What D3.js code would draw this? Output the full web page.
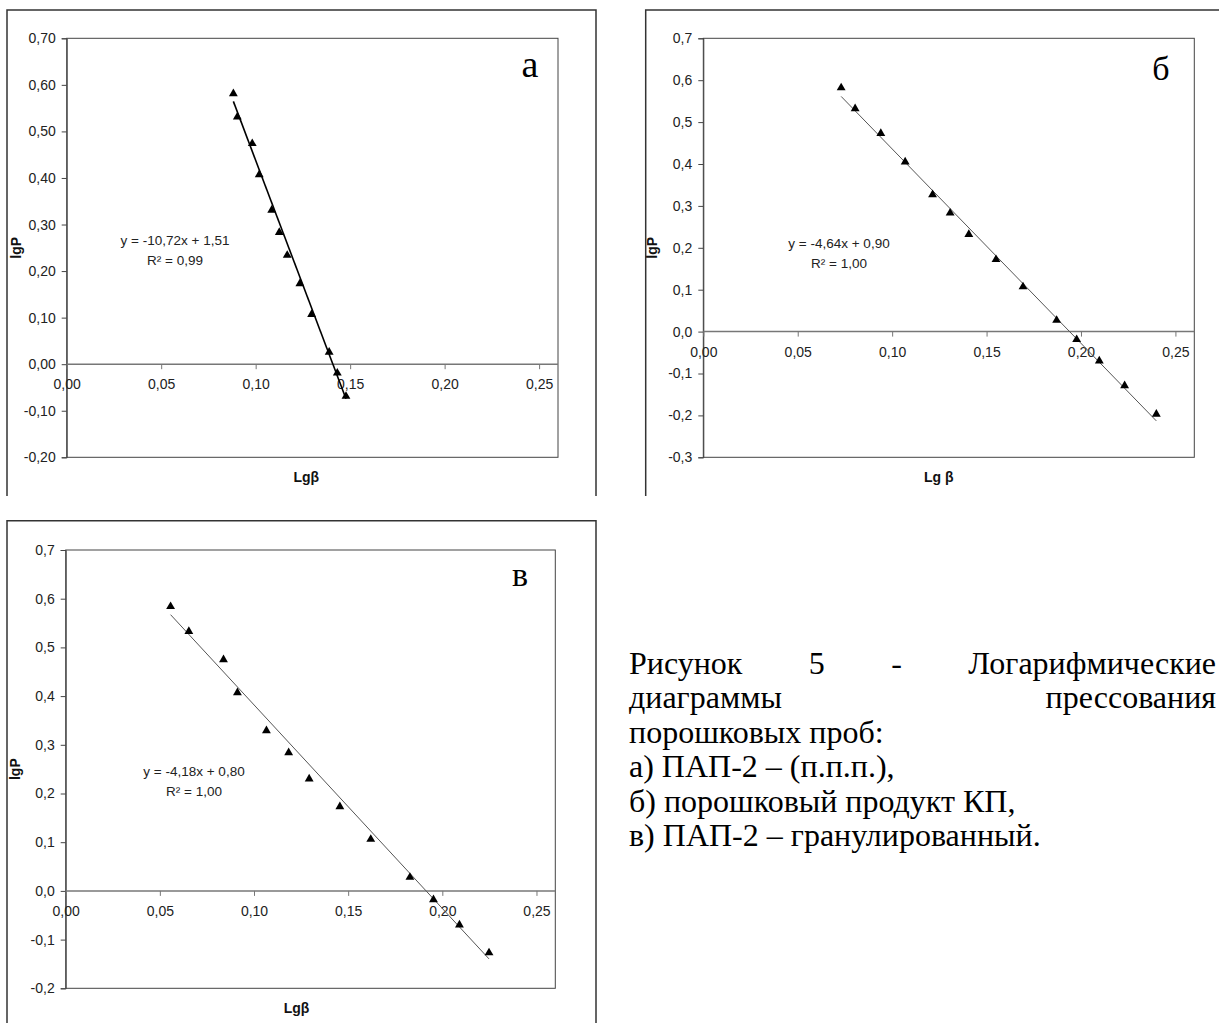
<!DOCTYPE html>
<html><head><meta charset="utf-8">
<script src="https://cdn.jsdelivr.net/npm/d3@7"></script>
<style>html,body{margin:0;padding:0;background:#fff;}svg{display:block;}</style>
</head><body>
<svg id="c" width="1219" height="1023"></svg>
<script>
// ---- data ----
const xTicks = [0, 0.05, 0.10, 0.15, 0.20, 0.25];
const yTicksA = [-0.2, -0.1, 0, 0.1, 0.2, 0.3, 0.4, 0.5, 0.6, 0.7];
const yTicksB = [-0.3, -0.2, -0.1, 0, 0.1, 0.2, 0.3, 0.4, 0.5, 0.6, 0.7];
const yTicksV = [-0.2, -0.1, 0, 0.1, 0.2, 0.3, 0.4, 0.5, 0.6, 0.7];

const xA = [0.0882, 0.0903, 0.0982, 0.1019, 0.1085, 0.1125, 0.1167, 0.1234, 0.1296, 0.1389, 0.1432, 0.1478];
const yA = [0.581, 0.531, 0.474, 0.407, 0.331, 0.283, 0.234, 0.173, 0.107, 0.026, -0.019, -0.069];
const fitA = {slope: -10.72, intercept: 1.51, eq: "y = -10,72x + 1,51", r2: "R² = 0,99"};

const xB = [0.0730, 0.0804, 0.0940, 0.1069, 0.1214, 0.1307, 0.1406, 0.1550, 0.1693, 0.1871, 0.1977, 0.2097, 0.2231, 0.2399];
const yB = [0.582, 0.532, 0.473, 0.405, 0.327, 0.283, 0.232, 0.172, 0.107, 0.027, -0.019, -0.070, -0.129, -0.197];
const fitB = {slope: -4.64, intercept: 0.90, eq: "y = -4,64x + 0,90", r2: "R² = 1,00"};

const xV = [0.0557, 0.0654, 0.0838, 0.0912, 0.1066, 0.1184, 0.1293, 0.1456, 0.1620, 0.1828, 0.1953, 0.2091, 0.2248];
const yV = [0.584, 0.533, 0.475, 0.407, 0.329, 0.284, 0.230, 0.173, 0.106, 0.028, -0.018, -0.070, -0.127];
const fitV = {slope: -4.18, intercept: 0.80, eq: "y = -4,18x + 0,80", r2: "R² = 1,00"};

const captionLines = [
  ["Рисунок", "5", "-", "Логарифмические"],
  ["диаграммы", "прессования"],
  ["порошковых проб:"],
  ["а) ПАП-2 – (п.п.п.),"],
  ["б) порошковый продукт КП,"],
  ["в) ПАП-2 – гранулированный."]
];

// ---- layout ----
const svg = d3.select("#c");
const loc = d3.formatLocale({decimal: ",", thousands: " ", grouping: [3], currency: ["", ""], minus: "-"});
const fx = loc.format(".2f");

const SANS = "'Liberation Sans', Arial, sans-serif";
const SERIF = "'Liberation Serif', 'Times New Roman', serif";

function frame(x0, y0, x1, y1) {
  const p = d3.path();
  p.moveTo(x0, y1); p.lineTo(x0, y0); p.lineTo(x1, y0); p.lineTo(x1, y1);
  svg.append("path").attr("d", p.toString()).attr("fill", "none").attr("stroke", "#333").attr("stroke-width", 1.5);
}
frame(7, 10, 596, 496);
frame(645.7, 10, 1230, 496);
frame(7, 520.7, 596, 1030);

const panels = [
  {xs: xA, ys: yA, fit: fitA, yTicks: yTicksA, yFmt: loc.format(".2f"), box: [66.7, 38.3, 558, 457.3],
   trend: {c: "#000", w: 1.6}, letter: "а", letterX: 530, letterY: 77, letterSize: 38,
   eqX: 175, eqY: 245, xLab: "Lgβ", xLabDx: -6},
  {xs: xB, ys: yB, fit: fitB, yTicks: yTicksB, yFmt: loc.format(".1f"), box: [703.3, 38.3, 1194.3, 457.3],
   trend: {c: "#555", w: 1}, letter: "б", letterX: 1161, letterY: 80, letterSize: 34,
   eqX: 839, eqY: 248, xLab: "Lg β", xLabDx: -10},
  {xs: xV, ys: yV, fit: fitV, yTicks: yTicksV, yFmt: loc.format(".1f"), box: [65.7, 550, 555.3, 988.3],
   trend: {c: "#555", w: 1}, letter: "в", letterX: 520, letterY: 586, letterSize: 34,
   eqX: 194, eqY: 776, xLab: "Lgβ", xLabDx: -14}
];

panels.forEach(P => {
  const [bx0, by0, bx1, by1] = P.box;
  const yMin = d3.min(P.yTicks), yMax = d3.max(P.yTicks);
  const x = d3.scaleLinear().domain([0, 0.26]).range([bx0, bx1]);
  const y = d3.scaleLinear().domain([yMin, yMax]).range([by1, by0]);
  const g = svg.append("g");

  g.append("rect").attr("x", bx0).attr("y", by0).attr("width", bx1 - bx0).attr("height", by1 - by0)
    .attr("fill", "none").attr("stroke", "#444").attr("stroke-width", 1);

  const ya = d3.axisLeft(y).tickValues(P.yTicks).tickFormat(P.yFmt).tickSize(5).tickPadding(6);
  const yg = g.append("g").attr("transform", `translate(${bx0},0)`).call(ya);
  yg.select(".domain").attr("stroke", "#444");
  yg.selectAll(".tick line").attr("stroke", "#444");
  yg.selectAll("text").attr("font-family", SANS).attr("font-size", 14).attr("fill", "#222");

  const xa = d3.axisBottom(x).tickValues(xTicks).tickFormat(fx).tickSize(5).tickPadding(10);
  const xg = g.append("g").attr("transform", `translate(0,${y(0)})`).call(xa);
  xg.select(".domain").attr("d", `M${bx0},0H${bx1}`).attr("stroke", "#777").attr("stroke-width", 1.5);
  xg.selectAll(".tick line").attr("stroke", "#777");
  xg.selectAll("text").attr("font-family", SANS).attr("font-size", 14).attr("fill", "#222");

  const xe = d3.extent(P.xs);
  const line = d3.line().x(d => x(d)).y(d => y(P.fit.slope * d + P.fit.intercept));
  g.append("path").datum(xe).attr("d", line).attr("fill", "none")
    .attr("stroke", P.trend.c).attr("stroke-width", P.trend.w);

  const tri = d3.symbol().type(d3.symbolTriangle).size(34);
  g.selectAll("path.pt").data(P.xs.map((v, i) => [v, P.ys[i]])).join("path")
    .attr("class", "pt").attr("d", tri)
    .attr("transform", d => `translate(${x(d[0])},${y(d[1])})`).attr("fill", "#000");

  g.append("text").attr("x", P.eqX).attr("y", P.eqY).attr("text-anchor", "middle")
    .attr("font-family", SANS).attr("font-size", 13.5).attr("fill", "#222").text(P.fit.eq);
  g.append("text").attr("x", P.eqX).attr("y", P.eqY + 20).attr("text-anchor", "middle")
    .attr("font-family", SANS).attr("font-size", 13.5).attr("fill", "#222").text(P.fit.r2);

  g.append("text").attr("x", (bx0 + bx1) / 2 + P.xLabDx).attr("y", by1 + 25).attr("text-anchor", "middle")
    .attr("font-family", SANS).attr("font-size", 14).attr("font-weight", "bold").attr("fill", "#111").text(P.xLab);
  g.append("text").attr("transform", `translate(${bx0 - 46},${(by0 + by1) / 2}) rotate(-90)`)
    .attr("text-anchor", "middle").attr("font-family", SANS).attr("font-size", 14)
    .attr("font-weight", "bold").attr("fill", "#111").text("lgP");

  g.append("text").attr("x", P.letterX).attr("y", P.letterY).attr("text-anchor", "middle")
    .attr("font-family", SERIF).attr("font-size", P.letterSize).attr("fill", "#000").text(P.letter);
});

// caption
const capX = 629, capY0 = 674, capLH = 34.4, capSize = 32, rightEdge = 1216;
const cap = svg.append("g").attr("font-family", SERIF).attr("font-size", capSize).attr("fill", "#000");
function measure(t) {
  const tmp = cap.append("text").text(t);
  const w = tmp.node().getComputedTextLength();
  tmp.remove();
  return w;
}
captionLines.forEach((words, li) => {
  const yy = capY0 + li * capLH;
  if (li < 2) {
    const ws = words.map(measure);
    const gap = (rightEdge - capX - d3.sum(ws)) / (words.length - 1);
    let cx = capX;
    words.forEach((w, i) => {
      cap.append("text").attr("x", cx).attr("y", yy).text(w);
      cx += ws[i] + gap;
    });
  } else {
    cap.append("text").attr("x", capX).attr("y", yy).text(words.join(" "));
  }
});
</script>
</body></html>
